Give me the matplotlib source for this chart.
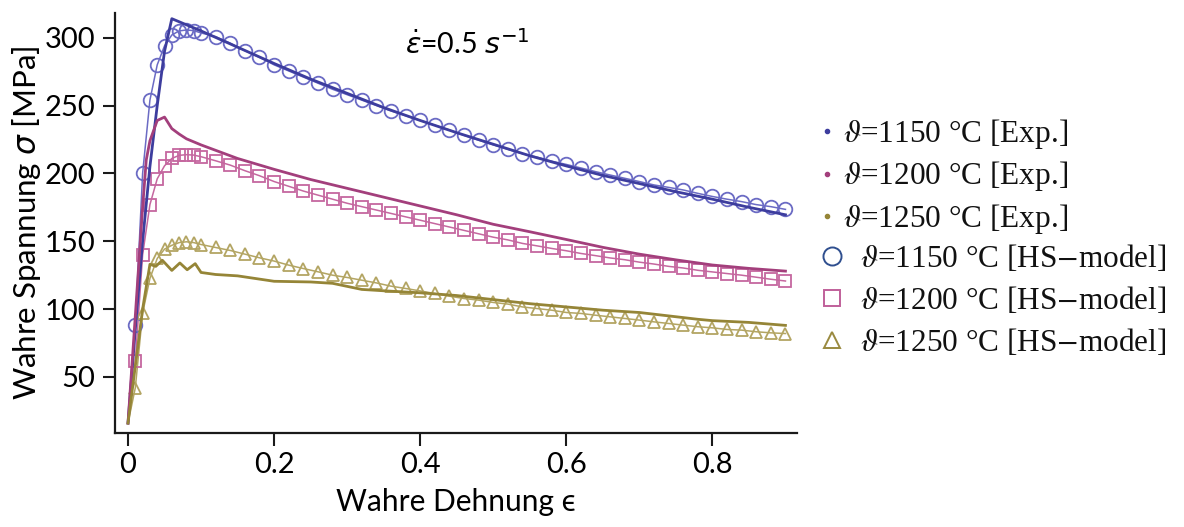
import matplotlib
matplotlib.use("Agg")
import matplotlib.pyplot as plt
from matplotlib.lines import Line2D
from matplotlib.font_manager import FontProperties

# ---------------- data ----------------
eps_model = [0.0, 0.01, 0.02, 0.03, 0.04, 0.05, 0.06, 0.07, 0.08, 0.09, 0.10,
             0.12, 0.14, 0.16, 0.18, 0.20, 0.22, 0.24, 0.26, 0.28, 0.30,
             0.32, 0.34, 0.36, 0.38, 0.40, 0.42, 0.44, 0.46, 0.48, 0.50,
             0.52, 0.54, 0.56, 0.58, 0.60, 0.62, 0.64, 0.66, 0.68, 0.70,
             0.72, 0.74, 0.76, 0.78, 0.80, 0.82, 0.84, 0.86, 0.88, 0.90]

model_1150 = [16, 88, 200, 254, 280, 294, 302, 305, 305.7, 305.2, 303.5,
              300.8, 296, 290.5, 285.5, 280, 275.5, 271, 266.5, 262, 258,
              254, 250, 246, 242.5, 239, 235.5, 232, 228, 224.5, 221,
              217.7, 214.5, 212, 209, 206.6, 204, 201.3, 198.8, 196.4, 194,
              191.5, 189.7, 187.8, 185.3, 183, 181, 179.2, 177, 175.5, 173.5]

model_1200 = [16, 61.5, 140, 177, 196, 205.6, 211, 213.3, 213.8, 213.5, 212.3,
              209.3, 206.1, 202, 198.3, 194, 190.5, 187, 184, 181, 178,
              175.5, 173, 170.5, 168, 165.5, 163, 160.5, 158, 155.5, 153,
              151, 148.4, 146.6, 144.7, 143, 141, 139.4, 137.7, 136.4, 134.6,
              133.2, 131.5, 130.3, 128.6, 127.4, 126.2, 125, 123.5, 122, 120.7]

model_1250 = [16, 42, 97, 122.6, 137.3, 144.2, 147, 149, 149.6, 149, 147.6,
              145.4, 143.2, 140.5, 137.8, 135.4, 132.4, 129.9, 127.5, 125, 123.3,
              121.3, 119.3, 116.9, 115.2, 113.4, 111.5, 109.5, 107.8, 106.6, 104.9,
              103.7, 101.6, 100.4, 99.2, 97.5, 96.8, 95.5, 94.3, 93.1, 91.9,
              90.6, 89.4, 88.2, 87, 86.2, 85, 84.5, 83.3, 82.5, 82]

eps_exp_1150 = [0.0, 0.01, 0.02, 0.03, 0.04, 0.05, 0.06, 0.08, 0.10, 0.15, 0.20,
                0.25, 0.30, 0.35, 0.40, 0.45, 0.50, 0.55, 0.60, 0.65, 0.70,
                0.75, 0.80, 0.85, 0.90]
exp_1150 = [16, 85, 150, 205, 250, 290, 314, 309.5, 305, 293, 281,
            269.5, 259, 248.5, 239, 230, 221.5, 213, 205.5, 198.5, 192.5,
            186.5, 181, 175, 169.5]

eps_exp_1200 = [0.0, 0.01, 0.02, 0.025, 0.03, 0.04, 0.05, 0.06, 0.07, 0.08, 0.10,
                0.15, 0.20, 0.25, 0.30, 0.35, 0.40, 0.45, 0.50, 0.55, 0.60,
                0.65, 0.70, 0.75, 0.80, 0.85, 0.90]
exp_1200 = [16, 95, 175, 210, 224, 239, 241.5, 233, 229, 225.5, 221,
            211, 203, 195.5, 189, 182.5, 176, 169.5, 162.5, 157, 151.3,
            145.5, 140.5, 136.3, 132.5, 130, 128]

eps_exp_1250 = [0.0, 0.01, 0.02, 0.03, 0.038, 0.047, 0.06, 0.071, 0.081, 0.092, 0.10,
                0.12, 0.15, 0.20, 0.25, 0.28, 0.32, 0.35, 0.40, 0.45, 0.50,
                0.55, 0.60, 0.65, 0.70, 0.74, 0.78, 0.80, 0.85, 0.90]
exp_1250 = [16, 58, 100, 133, 131.5, 136, 128.5, 134, 129, 133.5, 127,
            125.5, 124.5, 120.5, 120, 119, 114.5, 113.5, 112, 110, 107,
            104, 101.6, 99.2, 97.5, 95, 92.5, 91.5, 90.2, 88]

labels_exp = [r"$\vartheta$=1150 °C [Exp.]", r"$\vartheta$=1200 °C [Exp.]", r"$\vartheta$=1250 °C [Exp.]"]
labels_model = [r"$\vartheta$=1150 °C [HS$-$model]", r"$\vartheta$=1200 °C [HS$-$model]",
                r"$\vartheta$=1250 °C [HS$-$model]"]
xticks = [0, 0.2, 0.4, 0.6, 0.8]
xticklabels = ["0", "0.2", "0.4", "0.6", "0.8"]
yticks = [50, 100, 150, 200, 250, 300]

# ---------------- style ----------------
c_exp = ["#3d3d9e", "#a33f7c", "#958537"]
c_mod = ["#6b6bc4", "#c5679f", "#b3a563"]
c_leg = ["#2f4f8f", "#c0609a", "#9a8a40"]
markers = ["o", "s", "^"]
msizes = [9.8, 8.8, 9.0]

plt.rcParams["font.family"] = ["Lato", "DejaVu Sans"]

fig = plt.figure(figsize=(11.84, 5.27), dpi=100)
ax = fig.add_axes([115 / 1184, (527 - 433) / 527, (797 - 115) / 1184, (433 - 13) / 527])

models = [model_1150, model_1200, model_1250]
exps = [(eps_exp_1150, exp_1150), (eps_exp_1200, exp_1200), (eps_exp_1250, exp_1250)]

for i in range(3):
    ax.plot(eps_model, models[i], color=c_mod[i], lw=1.1, zorder=2)
    ax.plot(eps_model, models[i], ls="none", marker=markers[i], ms=msizes[i],
            mfc="none", mec=c_mod[i], mew=1.3, markevery=slice(1, None), zorder=3)
for i in range(3):
    ax.plot(exps[i][0], exps[i][1], color=c_exp[i], lw=2.0, zorder=4)

ax.set_xlim(-0.0178, 0.9158)
ax.set_ylim(8.7, 318.2)
ax.set_xticks(xticks)
ax.set_xticklabels(xticklabels)
ax.set_yticks(yticks)
for s in ["top", "right"]:
    ax.spines[s].set_visible(False)
for s in ["left", "bottom"]:
    ax.spines[s].set_linewidth(1.6)
    ax.spines[s].set_color("#1a1a1a")
ax.tick_params(direction="out", length=9, width=1.5, labelsize=21, color="#1a1a1a", pad=5)

ax.set_xlabel(r"Wahre Dehnung ϵ", fontsize=21.5, labelpad=7)
ax.set_ylabel(r"Wahre Spannung $\sigma$ [MPa]", fontsize=22.5, labelpad=1,
              math_fontfamily="dejavusans")

ax.text(0.464, 295, r"$\dot{\epsilon}$=0.5 $s^{-1}$", fontsize=20.5, ha="center", va="center",
        math_fontfamily="dejavusans")

# ---------------- legends ----------------
lp = FontProperties(family=["Liberation Serif", "DejaVu Serif"], size=22.5, math_fontfamily="stix")
h_exp = [Line2D([], [], ls="none", marker="o", ms=3, color=c_exp[i]) for i in range(3)]
h_mod = [Line2D([], [], ls="none", marker=markers[i], ms=[13, 12, 12][i], mfc="none",
                mec=c_leg[i], mew=1.4) for i in range(3)]

leg1 = fig.legend(h_exp, labels_exp, loc="upper left", bbox_to_anchor=(811 / 1184, 1 - 117 / 527),
                  frameon=False, prop=lp, handlelength=1.0, handletextpad=0.02, borderpad=0,
                  borderaxespad=0, labelspacing=0.27)
leg2 = fig.legend(h_mod, labels_model, loc="upper left", bbox_to_anchor=(816 / 1184, 1 - 243 / 527),
                  frameon=False, prop=lp, handlelength=1.0, handletextpad=0.4, borderpad=0,
                  borderaxespad=0, labelspacing=0.35)
for leg in (leg1, leg2):
    for t in leg.get_texts():
        t.set_color("#111111")

fig.savefig("out.png", dpi=100)
